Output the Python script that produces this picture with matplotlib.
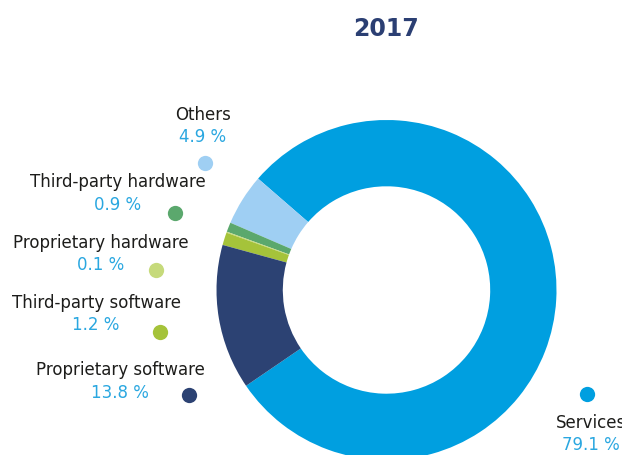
import matplotlib
matplotlib.use("Agg")
import matplotlib.pyplot as plt

# DATA - shares of revenue 2017, drawn counterclockwise starting with Services
categories = ["Services", "Others", "Third-party hardware", "Proprietary hardware",
              "Third-party software", "Proprietary software"]
shares = [79.1, 4.9, 0.9, 0.1, 1.2, 13.8]
colors = ["#009fe0", "#9fcff3", "#5ba86d", "#c6da7b", "#a5c33a", "#2c4273"]
title = "2017"

# label layout in pixels (x of text centre, y of name line, dot x, dot y)
label_pos = {
    "Services": (591, 423, 587, 394),
    "Others": (203, 115, 205, 163),
    "Third-party hardware": (118, 182, 175, 213),
    "Proprietary hardware": (101, 243, 156, 270),
    "Third-party software": (96, 303, 160, 332),
    "Proprietary software": (120, 370, 189, 395),
}

W, H = 622, 455
plt.rcParams['font.family'] = ['DejaVu Sans']
fig = plt.figure(figsize=(W / 100, H / 100), dpi=100)
ax = fig.add_axes([0, 0, 1, 1])

# donut
cx, cy, r = 386.5, H - 290, 170
ax.pie(shares, colors=colors, startangle=214.3, counterclock=True,
       center=(cx, cy), radius=r, frame=True,
       wedgeprops=dict(width=r * 0.39, linewidth=0))
ax.set_xlim(0, W)
ax.set_ylim(0, H)
ax.set_aspect('equal')
ax.axis('off')

# labels with dot markers
for name, val, col in zip(categories, shares, colors):
    tx, ty, dx, dy = label_pos[name]
    ax.text(tx, H - ty, name, ha='center', va='center', fontsize=12, color='#1d1d1b')
    ax.text(tx, H - ty - 22.5, f"{val:.1f} %", ha='center', va='center',
            fontsize=12, color='#2aa7e0')
    ax.plot(dx, H - dy, 'o', ms=11, color=col, mec='none')

ax.text(386, H - 29, title, ha='center', va='center', fontsize=17,
        fontweight='bold', color='#2b3f73')

fig.savefig("out.png", dpi=100)
